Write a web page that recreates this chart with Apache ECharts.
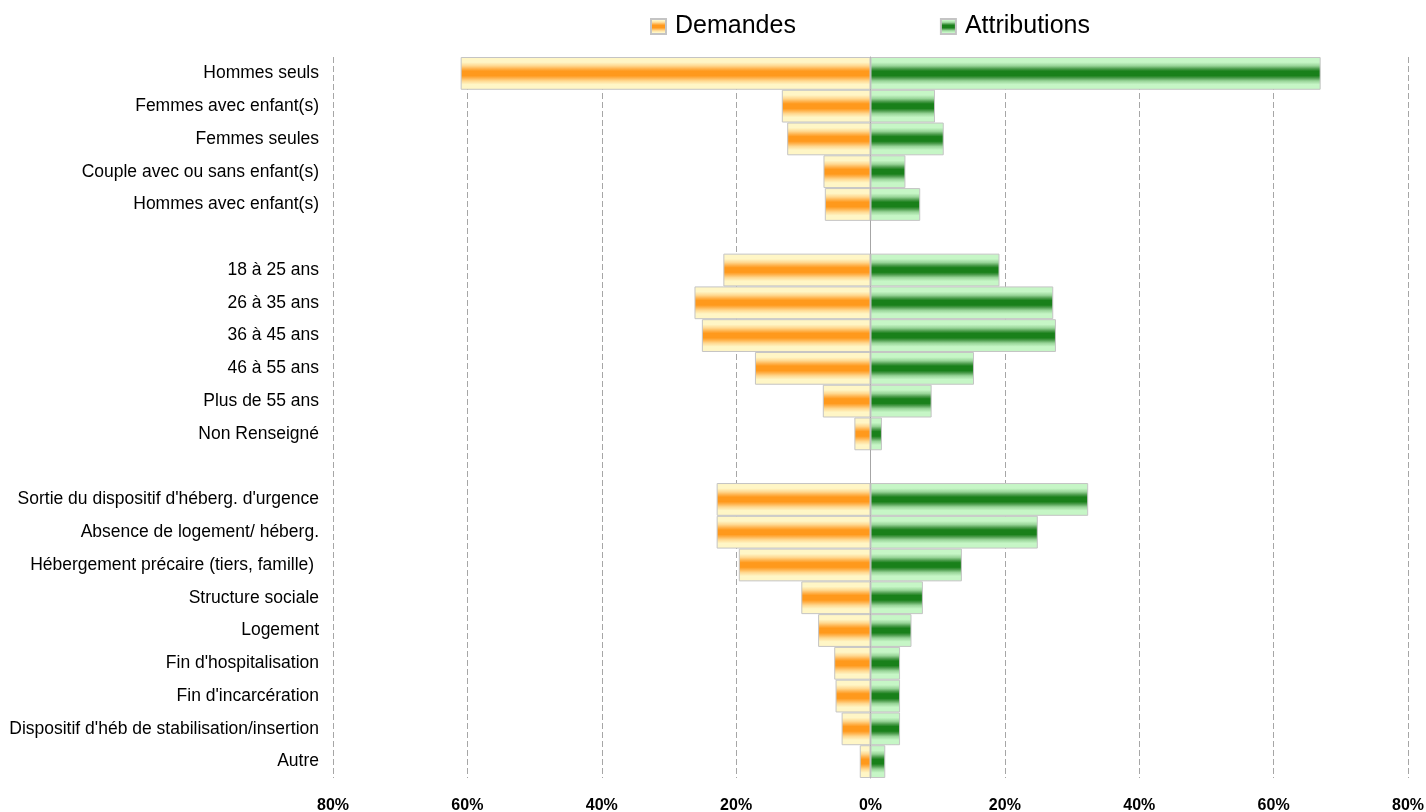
<!DOCTYPE html>
<html>
<head>
<meta charset="utf-8">
<script src="https://cdn.jsdelivr.net/npm/echarts@6/dist/echarts.min.js"></script>
<style>
html,body{margin:0;padding:0;background:#fff;}
#chart{width:1426px;height:812px;}
</style>
</head>
<body>
<div id="chart"></div>
<script>
var categories = [
  'Hommes seuls', 'Femmes avec enfant(s)', 'Femmes seules', 'Couple avec ou sans enfant(s)', 'Hommes avec enfant(s)',
  ' ',
  '18 à 25 ans', '26 à 35 ans', '36 à 45 ans', '46 à 55 ans', 'Plus de 55 ans', 'Non Renseigné',
  '  ',
  "Sortie du dispositif d'héberg. d'urgence", 'Absence de logement/ héberg.', 'Hébergement précaire (tiers, famille) ',
  'Structure sociale', 'Logement', "Fin d'hospitalisation", "Fin d'incarcération",
  "Dispositif d'héb de stabilisation/insertion", 'Autre'
];
var demandes = [61.0, 13.2, 12.4, 7.0, 6.8, null, 21.9, 26.2, 25.1, 17.2, 7.1, 2.4, null, 22.9, 22.9, 19.6, 10.3, 7.8, 5.4, 5.2, 4.3, 1.6];
var attributions = [67.0, 9.6, 10.9, 5.2, 7.4, null, 19.2, 27.2, 27.6, 15.4, 9.1, 1.7, null, 32.4, 24.9, 13.6, 7.8, 6.1, 4.4, 4.4, 4.4, 2.2];
var xTicks = [-80, -60, -40, -20, 0, 20, 40, 60, 80];

var chart = echarts.init(document.getElementById('chart'), null, {renderer: 'canvas'});

function grad(edge, mid1, mid2, center) {
  return new echarts.graphic.LinearGradient(0, 0, 0, 1, [
    {offset: 0, color: edge},
    {offset: 0.16, color: edge},
    {offset: 0.27, color: mid1},
    {offset: 0.36, color: mid2},
    {offset: 0.43, color: center},
    {offset: 0.57, color: center},
    {offset: 0.64, color: mid2},
    {offset: 0.73, color: mid1},
    {offset: 0.84, color: edge},
    {offset: 1, color: edge}
  ]);
}
var orange = grad('#fff6c6', '#ffd890', '#ffb24c', '#ff991c');
var green = grad('#c6f6c6', '#98d498', '#4c9c4c', '#19801a');

chart.setOption({
  animation: false,
  textStyle: {fontFamily: '"Liberation Sans", Arial, sans-serif'},
  legend: {
    left: 645,
    top: 9,
    itemWidth: 15,
    itemHeight: 15,
    itemGap: 144,
    icon: 'rect',
    textStyle: {fontSize: 25, color: '#000', padding: [0, 0, 0, 4]},
    data: ['Demandes', 'Attributions']
  },
  grid: {left: 333, right: 18, top: 57, bottom: 34, containLabel: false, outerBoundsMode: 'none'},
  xAxis: {
    type: 'value',
    min: xTicks[0],
    max: xTicks[xTicks.length - 1],
    interval: 20,
    axisLine: {show: false},
    axisTick: {show: false},
    axisLabel: {
      formatter: function (v) { return Math.abs(v) + '%'; },
      fontSize: 16, fontWeight: 'bold', color: '#000', margin: 20
    },
    splitLine: {show: true, lineStyle: {type: [6, 3], color: '#a6a6a6', width: 1}}
  },
  yAxis: {
    type: 'category',
    inverse: true,
    data: categories,
    axisTick: {show: false},
    axisLine: {show: true, onZero: true, lineStyle: {color: '#a6a6a6', width: 1}},
    axisLabel: {fontSize: 17.5, color: '#000', margin: 14, interval: 0, padding: [5, 0, 0, 0]},
    splitLine: {show: false}
  },
  series: [
    {
      name: 'Demandes',
      type: 'bar',
      barGap: '-100%',
      barCategoryGap: '0%',
      data: demandes.map(function (v) { return v == null ? null : -v; }),
      itemStyle: {color: orange, borderColor: '#c4c4c4', borderWidth: 1}
    },
    {
      name: 'Attributions',
      type: 'bar',
      barGap: '-100%',
      barCategoryGap: '0%',
      data: attributions,
      itemStyle: {color: green, borderColor: '#c4c4c4', borderWidth: 1}
    }
  ]
});
</script>
</body>
</html>
